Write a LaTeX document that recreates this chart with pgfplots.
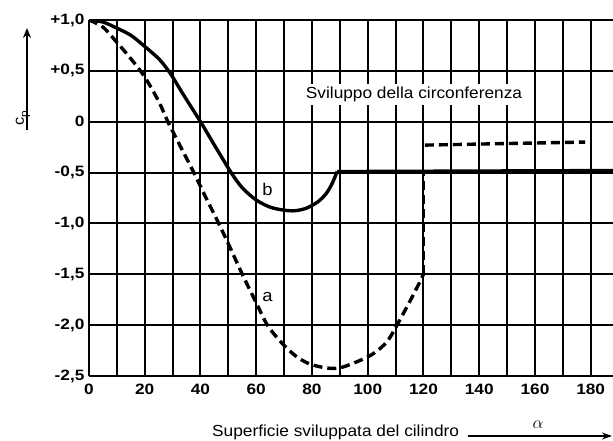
\documentclass[border=0pt]{standalone}
\usepackage{fontspec}
\setmainfont{Liberation Sans}[FakeStretch=1.08]
\newfontfamily\tickfont{Liberation Sans}[FakeStretch=1.15]
\usepackage{pgfplots}
\pgfplotsset{compat=1.18}
\usetikzlibrary{arrows.meta}
\begin{document}
\begin{tikzpicture}
\begin{axis}[
 at={(89pt,64pt)}, anchor=south west,
 scale only axis, width=524pt, height=356pt,
 xmin=0, xmax=188, ymin=-2.5, ymax=1,
 axis lines=left, axis line style={-, line width=2.4pt},
 xtick={0,20,40,60,80,100,120,140,160,180},
 minor xtick={10,30,50,70,90,110,130,150,170},
 xticklabels={0,20,40,60,80,100,120,140,160,180},
 ytick={-2.5,-2,-1.5,-1,-0.5,0,0.5,1},
 yticklabels={{-2,5},{-2,0},{-1,5},{-1,0},{-0,5},{0},{+0,5},{+1,0}},
 major tick length=0pt, minor tick length=0pt,
 grid=both, grid style={black, line width=2pt},
 minor grid style={black, line width=2pt},
 major grid style={black, line width=2pt},
 tick label style={font=\tickfont\bfseries\fontsize{15}{17}\selectfont},
 xticklabel style={yshift=-4pt},
 yticklabel style={xshift=-1pt},
]
% curve b (solid)
\addplot[black, line width=3.4pt, smooth, tension=0.5] coordinates {
(0,1.0)(5,0.98)(10,0.92)(15,0.85)(20,0.74)(25,0.62)(28,0.52)(30,0.44)(34,0.26)(40,0.0)(45,-0.23)(51,-0.5)(55,-0.65)(60,-0.77)(65,-0.84)(70,-0.87)(74,-0.875)(78,-0.85)(82,-0.79)(85,-0.71)(87,-0.62)(88.3,-0.54)(89,-0.49)
};
\addplot[black, line width=3.4pt] coordinates {(89,-0.49)(188,-0.48)};
% curve a (dashed)
\addplot[black, line width=3.4pt, dash pattern=on 9pt off 5pt, smooth, tension=0.5] coordinates {
(0,1.0)(5,0.93)(10,0.78)(15,0.62)(20,0.44)(25,0.2)(28.3,0.0)(32,-0.2)(37.6,-0.5)(42,-0.75)(46,-0.97)(50,-1.2)(55,-1.5)(60,-1.78)(64,-2.0)(69,-2.17)(74,-2.3)(79,-2.38)(85,-2.42)(90,-2.42)(97,-2.35)(102,-2.28)(107,-2.16)(111.5,-1.95)(116,-1.72)(118.6,-1.58)(120,-1.5)
};
\addplot[black, line width=3.4pt, dash pattern=on 9pt off 5pt] coordinates {(120,-1.5)(120,-0.5)};
\addplot[black, line width=3.4pt, dash pattern=on 9pt off 5pt] coordinates {(120.5,-0.23)(178,-0.2)};
\node[font=\fontsize{16}{18}\selectfont, fill=white, inner sep=3pt] at (axis cs:116.6,0.27) {Sviluppo della circonferenza};
\node[font=\fontsize{17}{19}\selectfont, inner sep=1pt] at (axis cs:64,-0.67) {b};
\node[font=\fontsize{17}{19}\selectfont, inner sep=1pt] at (axis cs:64,-1.72) {a};
\end{axis}
\draw[-{Stealth[length=10pt,width=8pt]}, line width=1.6pt] (27pt,310pt) -- (27pt,412pt);
\node[rotate=90, font=\fontsize{15}{17}\selectfont, anchor=base] at (24pt,322pt) {c\raisebox{-4pt}{\fontsize{11}{13}\selectfont p}};
\node[anchor=base west, font=\fontsize{16}{18}\selectfont, inner sep=0pt] at (212pt,4pt) {Superficie sviluppata del cilindro};
\draw[-{Stealth[length=10pt,width=7pt]}, line width=1.4pt] (468pt,4pt) -- (612pt,4pt);
\node[font=\fontsize{18}{20}\selectfont] at (538pt,15pt) {$\alpha$};
\pgfresetboundingbox
\path[use as bounding box] (0,0) rectangle (613pt,440pt);
\end{tikzpicture}
\end{document}
